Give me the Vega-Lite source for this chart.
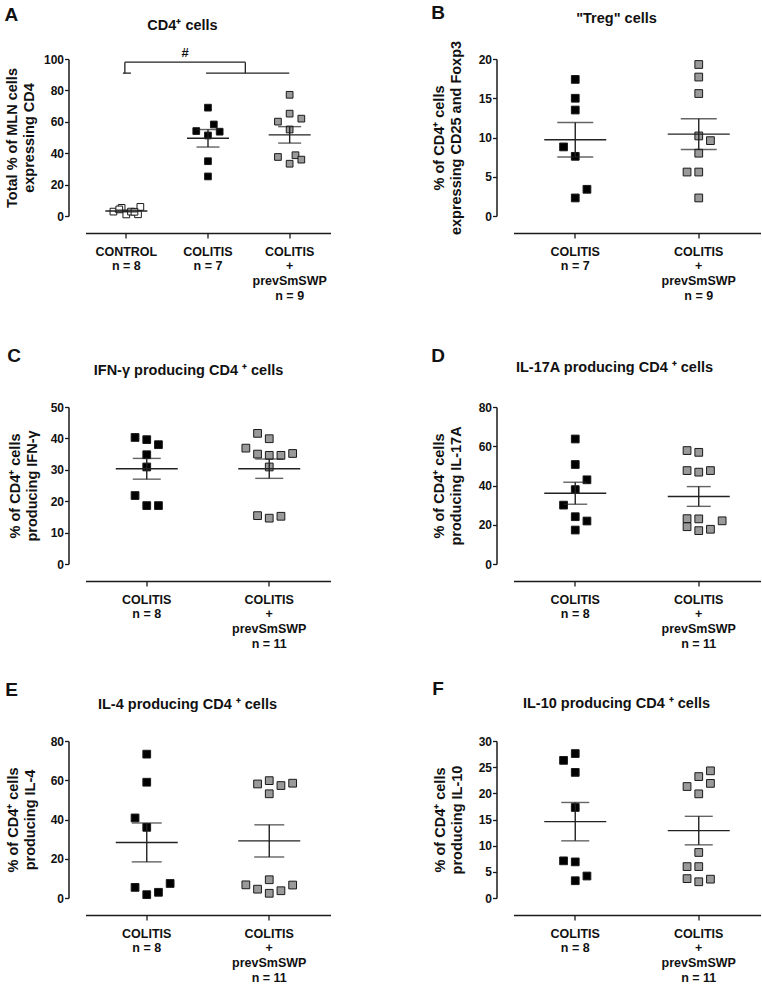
{
  "$schema": "https://vega.github.io/schema/vega-lite/v6.json",
  "padding": {"left": 3.5, "top": 3, "right": 0, "bottom": 0},
  "background": "white",
  "datasets": {
    "pts": [
      {"p":"A","g":1,"grp":"control","s":-1.1,"v":2.8},{"p":"A","g":1,"grp":"control","s":-0.4,"v":5.2},{"p":"A","g":1,"grp":"control","s":0,"v":1.0},{"p":"A","g":1,"grp":"control","s":0.4,"v":2.8},{"p":"A","g":1,"grp":"control","s":1.0,"v":1.1},{"p":"A","g":1,"grp":"control","s":1.2,"v":5.8},{"p":"A","g":1,"grp":"control","s":-0.6,"v":4.2},{"p":"A","g":1,"grp":"control","s":0.7,"v":2.7},
      {"p":"A","g":2,"grp":"colitis","s":0,"v":69.0},{"p":"A","g":2,"grp":"colitis","s":-1,"v":54.1},{"p":"A","g":2,"grp":"colitis","s":0.5,"v":58.3},{"p":"A","g":2,"grp":"colitis","s":0,"v":51.3},{"p":"A","g":2,"grp":"colitis","s":1,"v":53.7},{"p":"A","g":2,"grp":"colitis","s":0,"v":34.9},{"p":"A","g":2,"grp":"colitis","s":0,"v":25.2},
      {"p":"A","g":3,"grp":"prev","s":0,"v":77.2},{"p":"A","g":3,"grp":"prev","s":0,"v":65.2},{"p":"A","g":3,"grp":"prev","s":-1,"v":60.1},{"p":"A","g":3,"grp":"prev","s":1,"v":62.0},{"p":"A","g":3,"grp":"prev","s":0,"v":55.1},{"p":"A","g":3,"grp":"prev","s":-1,"v":37.6},{"p":"A","g":3,"grp":"prev","s":0.5,"v":38.7},{"p":"A","g":3,"grp":"prev","s":0,"v":33.3},{"p":"A","g":3,"grp":"prev","s":1,"v":35.9},
      {"p":"B","g":1,"grp":"colitis","s":0,"v":17.4},{"p":"B","g":1,"grp":"colitis","s":0,"v":15.0},{"p":"B","g":1,"grp":"colitis","s":0,"v":13.5},{"p":"B","g":1,"grp":"colitis","s":-1,"v":8.8},{"p":"B","g":1,"grp":"colitis","s":0,"v":7.6},{"p":"B","g":1,"grp":"colitis","s":1,"v":3.4},{"p":"B","g":1,"grp":"colitis","s":0,"v":2.3},
      {"p":"B","g":2,"grp":"prev","s":0,"v":19.3},{"p":"B","g":2,"grp":"prev","s":0,"v":17.7},{"p":"B","g":2,"grp":"prev","s":0,"v":15.6},{"p":"B","g":2,"grp":"prev","s":0,"v":10.2},{"p":"B","g":2,"grp":"prev","s":1,"v":9.6},{"p":"B","g":2,"grp":"prev","s":0,"v":8.0},{"p":"B","g":2,"grp":"prev","s":-1,"v":5.6},{"p":"B","g":2,"grp":"prev","s":0,"v":5.6},{"p":"B","g":2,"grp":"prev","s":0,"v":2.3},
      {"p":"C","g":1,"grp":"colitis","s":-1,"v":40.3},{"p":"C","g":1,"grp":"colitis","s":0,"v":39.6},{"p":"C","g":1,"grp":"colitis","s":1,"v":38.0},{"p":"C","g":1,"grp":"colitis","s":0,"v":34.8},{"p":"C","g":1,"grp":"colitis","s":0,"v":30.9},{"p":"C","g":1,"grp":"colitis","s":-1,"v":21.8},{"p":"C","g":1,"grp":"colitis","s":0,"v":18.6},{"p":"C","g":1,"grp":"colitis","s":1,"v":18.6},
      {"p":"C","g":2,"grp":"prev","s":-1,"v":41.6},{"p":"C","g":2,"grp":"prev","s":0,"v":39.9},{"p":"C","g":2,"grp":"prev","s":-2,"v":36.9},{"p":"C","g":2,"grp":"prev","s":-1,"v":35.0},{"p":"C","g":2,"grp":"prev","s":0,"v":34.6},{"p":"C","g":2,"grp":"prev","s":1,"v":34.6},{"p":"C","g":2,"grp":"prev","s":2,"v":35.2},{"p":"C","g":2,"grp":"prev","s":0,"v":30.9},{"p":"C","g":2,"grp":"prev","s":-1,"v":15.4},{"p":"C","g":2,"grp":"prev","s":0,"v":14.6},{"p":"C","g":2,"grp":"prev","s":1,"v":15.2},
      {"p":"D","g":1,"grp":"colitis","s":0,"v":63.7},{"p":"D","g":1,"grp":"colitis","s":0,"v":50.7},{"p":"D","g":1,"grp":"colitis","s":1,"v":42.9},{"p":"D","g":1,"grp":"colitis","s":0,"v":37.9},{"p":"D","g":1,"grp":"colitis","s":-1,"v":30.0},{"p":"D","g":1,"grp":"colitis","s":0,"v":24.1},{"p":"D","g":1,"grp":"colitis","s":1,"v":21.9},{"p":"D","g":1,"grp":"colitis","s":0,"v":17.3},
      {"p":"D","g":2,"grp":"prev","s":-1,"v":57.8},{"p":"D","g":2,"grp":"prev","s":0,"v":56.9},{"p":"D","g":2,"grp":"prev","s":-1,"v":47.6},{"p":"D","g":2,"grp":"prev","s":0,"v":46.8},{"p":"D","g":2,"grp":"prev","s":1,"v":47.6},{"p":"D","g":2,"grp":"prev","s":-1,"v":23.1},{"p":"D","g":2,"grp":"prev","s":0,"v":23.0},{"p":"D","g":2,"grp":"prev","s":2,"v":22.0},{"p":"D","g":2,"grp":"prev","s":-1,"v":19.0},{"p":"D","g":2,"grp":"prev","s":0,"v":17.0},{"p":"D","g":2,"grp":"prev","s":1,"v":17.7},
      {"p":"E","g":1,"grp":"colitis","s":0,"v":73.3},{"p":"E","g":1,"grp":"colitis","s":0,"v":59.0},{"p":"E","g":1,"grp":"colitis","s":-1,"v":40.8},{"p":"E","g":1,"grp":"colitis","s":0,"v":36.0},{"p":"E","g":1,"grp":"colitis","s":-1,"v":5.4},{"p":"E","g":1,"grp":"colitis","s":0,"v":1.7},{"p":"E","g":1,"grp":"colitis","s":1,"v":2.9},{"p":"E","g":1,"grp":"colitis","s":2,"v":7.4},
      {"p":"E","g":2,"grp":"prev","s":-1,"v":58.1},{"p":"E","g":2,"grp":"prev","s":0,"v":59.8},{"p":"E","g":2,"grp":"prev","s":1,"v":57.3},{"p":"E","g":2,"grp":"prev","s":2,"v":58.5},{"p":"E","g":2,"grp":"prev","s":0,"v":53.1},{"p":"E","g":2,"grp":"prev","s":-2,"v":6.7},{"p":"E","g":2,"grp":"prev","s":-1,"v":4.5},{"p":"E","g":2,"grp":"prev","s":0,"v":9.3},{"p":"E","g":2,"grp":"prev","s":0,"v":2.4},{"p":"E","g":2,"grp":"prev","s":1,"v":3.7},{"p":"E","g":2,"grp":"prev","s":2,"v":6.6},
      {"p":"F","g":1,"grp":"colitis","s":0,"v":27.6},{"p":"F","g":1,"grp":"colitis","s":-1,"v":26.3},{"p":"F","g":1,"grp":"colitis","s":0,"v":24.0},{"p":"F","g":1,"grp":"colitis","s":0,"v":17.3},{"p":"F","g":1,"grp":"colitis","s":-1,"v":7.1},{"p":"F","g":1,"grp":"colitis","s":0,"v":6.9},{"p":"F","g":1,"grp":"colitis","s":1,"v":4.2},{"p":"F","g":1,"grp":"colitis","s":0,"v":3.3},
      {"p":"F","g":2,"grp":"prev","s":1,"v":24.3},{"p":"F","g":2,"grp":"prev","s":0,"v":23.2},{"p":"F","g":2,"grp":"prev","s":1,"v":21.9},{"p":"F","g":2,"grp":"prev","s":-1,"v":21.3},{"p":"F","g":2,"grp":"prev","s":0,"v":19.9},{"p":"F","g":2,"grp":"prev","s":0,"v":8.7},{"p":"F","g":2,"grp":"prev","s":-1,"v":6.0},{"p":"F","g":2,"grp":"prev","s":0,"v":6.0},{"p":"F","g":2,"grp":"prev","s":-1,"v":3.7},{"p":"F","g":2,"grp":"prev","s":0,"v":3.1},{"p":"F","g":2,"grp":"prev","s":1,"v":3.6}
    ]
  },
  "data": {"name": "pts"},
  "spacing": 348,
  "bounds": "flush",
  "resolve": {"scale": {"xOffset": "independent"}},
  "vconcat": [
    {
      "hconcat": [
        {
          "title": {"text": "A", "anchor": "start", "frame": "bounds", "offset": -7},
          "bounds": "flush",
          "resolve": {"scale": {"xOffset": "independent"}},
          "vconcat": [
            {
              "title": {"text": "CD4⁺ cells", "anchor": "middle", "frame": "group", "offset": 13.7, "dx": -25.5, "fontSize": 14.5},
              "width": 245, "height": 157,
              "transform": [{"filter": "datum.p == 'A'"}],
              "layer": [
                {
                  "mark": {"type": "square", "size": 45, "filled": true, "opacity": 1, "stroke": "#1a1a1a", "strokeWidth": 1},
                  "encoding": {
                    "x": {"field": "g", "type": "ordinal", "scale": {"domain": [1, 2, 3], "paddingInner": 0, "paddingOuter": 0}, "axis": {"title": null, "labelAngle": 0, "labelExpr": "datum.value == 1 ? ['CONTROL', 'n = 8'] : datum.value == 2 ? ['COLITIS', 'n = 7'] : ['COLITIS', '+', 'prevSmSWP', 'n = 9']"}},
                    "xOffset": {"field": "s", "type": "quantitative", "scale": {"domain": [-1, 1], "range": [29.1, 52.5]}},
                    "y": {"field": "v", "type": "quantitative", "scale": {"domain": [0, 100], "nice": false}, "axis": {"values": [0, 20, 40, 60, 80, 100], "title": ["Total % of MLN cells", "expressing CD4"], "titlePadding": 7}},
                    "fill": {"field": "grp", "type": "nominal", "scale": {"domain": ["control", "colitis", "prev"], "range": ["#ffffff", "#000000", "#9a9a9a"]}, "legend": null}
                  }
                },
                {
                  "mark": {"type": "errorbar", "extent": "stderr", "ticks": {"size": 23}, "thickness": 1.4, "color": "#222222"},
                  "encoding": {
                    "x": {"field": "g", "type": "ordinal", "scale": {"domain": [1, 2, 3], "paddingInner": 0, "paddingOuter": 0}, "axis": null},
                    "y": {"field": "v", "type": "quantitative", "scale": {"domain": [0, 100], "nice": false}, "axis": {"values": [0, 20, 40, 60, 80, 100], "title": ["Total % of MLN cells", "expressing CD4"], "titlePadding": 7}}
                  }
                },
                {
                  "mark": {"type": "tick", "orient": "horizontal", "size": 42, "thickness": 1.4, "color": "#222222"},
                  "encoding": {
                    "x": {"field": "g", "type": "ordinal", "scale": {"domain": [1, 2, 3], "paddingInner": 0, "paddingOuter": 0}, "axis": null},
                    "y": {"aggregate": "mean", "field": "v", "type": "quantitative", "scale": {"domain": [0, 100], "nice": false}, "axis": {"values": [0, 20, 40, 60, 80, 100], "title": ["Total % of MLN cells", "expressing CD4"], "titlePadding": 7}}
                  }
                },
                {
                  "data": {"values": [
                    {"p": "A", "x1": 0.958, "x2": 1.056, "y1": 91, "y2": 91},
                    {"p": "A", "x1": 0.982, "x2": 0.982, "y1": 91, "y2": 98},
                    {"p": "A", "x1": 0.982, "x2": 2.457, "y1": 98, "y2": 98},
                    {"p": "A", "x1": 2.457, "x2": 2.457, "y1": 98, "y2": 91},
                    {"p": "A", "x1": 1.976, "x2": 2.995, "y1": 91, "y2": 91}
                  ]},
                  "mark": {"type": "rule", "strokeWidth": 1.3, "color": "#222222"},
                  "encoding": {
                    "x": {"field": "x1", "type": "quantitative", "scale": {"domain": [0.5, 3.5]}, "axis": null},
                    "x2": {"field": "x2"},
                    "y": {"field": "y1", "type": "quantitative", "scale": {"domain": [0, 100], "nice": false}, "axis": {"values": [0, 20, 40, 60, 80, 100], "title": ["Total % of MLN cells", "expressing CD4"], "titlePadding": 7}},
                    "y2": {"field": "y2"}
                  }
                },
                {
                  "data": {"values": [{"p": "A", "x": 1.72, "y": 101, "t": "#"}]},
                  "mark": {"type": "text", "baseline": "alphabetic", "align": "center", "fontSize": 13, "fontWeight": "bold", "font": "Liberation Sans", "color": "#111111"},
                  "encoding": {
                    "x": {"field": "x", "type": "quantitative", "scale": {"domain": [0.5, 3.5]}, "axis": null},
                    "y": {"field": "y", "type": "quantitative", "scale": {"domain": [0, 100], "nice": false}, "axis": {"values": [0, 20, 40, 60, 80, 100], "title": ["Total % of MLN cells", "expressing CD4"], "titlePadding": 7}},
                    "text": {"field": "t"}
                  }
                }
              ],
              "resolve": {"scale": {"x": "independent"}}
            }
          ]
        },
        {
          "title": {"text": "B", "anchor": "start", "frame": "bounds", "offset": -12},
          "bounds": "flush",
          "resolve": {"scale": {"xOffset": "independent"}},
          "vconcat": [
            {
              "title": {"text": "\"Treg\" cells", "anchor": "middle", "frame": "group", "offset": 14.2, "dx": -20.5, "fontSize": 14.5},
              "width": 247, "height": 157,
              "transform": [{"filter": "datum.p == 'B'"}],
              "layer": [
                {
                  "mark": {"type": "square", "size": 60, "filled": true, "opacity": 1, "stroke": "#1a1a1a", "strokeWidth": 1},
                  "encoding": {
                    "x": {"field": "g", "type": "ordinal", "scale": {"domain": [1, 2], "paddingInner": 0, "paddingOuter": 0}, "axis": {"title": null, "labelAngle": 0, "labelExpr": "datum.value == 1 ? ['COLITIS', 'n = 7'] : ['COLITIS', '+', 'prevSmSWP', 'n = 9']"}},
                    "xOffset": {"field": "s", "type": "quantitative", "scale": {"domain": [-1, 1], "range": [50.05, 73.45]}},
                    "y": {"field": "v", "type": "quantitative", "scale": {"domain": [0, 20], "nice": false}, "axis": {"values": [0, 5, 10, 15, 20], "title": ["% of CD4⁺ cells", "expressing CD25 and Foxp3"], "titlePadding": 15}},
                    "fill": {"field": "grp", "type": "nominal", "scale": {"domain": ["control", "colitis", "prev"], "range": ["#ffffff", "#000000", "#9a9a9a"]}, "legend": null}
                  }
                },
                {
                  "mark": {"type": "errorbar", "extent": "stderr", "ticks": {"size": 36}, "thickness": 1.4, "color": "#222222"},
                  "encoding": {
                    "x": {"field": "g", "type": "ordinal", "scale": {"domain": [1, 2], "paddingInner": 0, "paddingOuter": 0}, "axis": {"title": null, "labelAngle": 0, "labelExpr": "datum.value == 1 ? ['COLITIS', 'n = 7'] : ['COLITIS', '+', 'prevSmSWP', 'n = 9']"}},
                    "y": {"field": "v", "type": "quantitative", "scale": {"domain": [0, 20], "nice": false}, "axis": {"values": [0, 5, 10, 15, 20], "title": ["% of CD4⁺ cells", "expressing CD25 and Foxp3"], "titlePadding": 15}}
                  }
                },
                {
                  "mark": {"type": "tick", "orient": "horizontal", "size": 62, "thickness": 1.4, "color": "#222222"},
                  "encoding": {
                    "x": {"field": "g", "type": "ordinal", "scale": {"domain": [1, 2], "paddingInner": 0, "paddingOuter": 0}, "axis": {"title": null, "labelAngle": 0, "labelExpr": "datum.value == 1 ? ['COLITIS', 'n = 7'] : ['COLITIS', '+', 'prevSmSWP', 'n = 9']"}},
                    "y": {"aggregate": "mean", "field": "v", "type": "quantitative", "scale": {"domain": [0, 20], "nice": false}, "axis": {"values": [0, 5, 10, 15, 20], "title": ["% of CD4⁺ cells", "expressing CD25 and Foxp3"], "titlePadding": 15}}
                  }
                }
              ]
            }
          ]
        }
      ],
      "spacing": 428,
      "bounds": "flush",
      "resolve": {"scale": {"xOffset": "independent"}}
    },
    {
      "spacing": 334,
      "bounds": "flush",
      "resolve": {"scale": {"xOffset": "independent"}},
      "vconcat": [
        {
          "hconcat": [
            {
              "title": {"text": "C", "anchor": "start", "frame": "bounds", "offset": -2.5},
              "bounds": "flush",
              "resolve": {"scale": {"xOffset": "independent"}},
              "vconcat": [
                {
                  "title": {"text": "IFN-γ producing CD4 ⁺ cells", "anchor": "middle", "frame": "group", "offset": 22.2, "dx": -19.5, "fontSize": 14.5},
                  "width": 245, "height": 157,
                  "transform": [{"filter": "datum.p == 'C'"}],
                  "layer": [
                    {
                      "mark": {"type": "square", "size": 60, "filled": true, "opacity": 1, "stroke": "#1a1a1a", "strokeWidth": 1},
                      "encoding": {
                        "x": {"field": "g", "type": "ordinal", "scale": {"domain": [1, 2], "paddingInner": 0, "paddingOuter": 0}, "axis": {"title": null, "labelAngle": 0, "labelExpr": "datum.value == 1 ? ['COLITIS', 'n = 8'] : ['COLITIS', '+', 'prevSmSWP', 'n = 11']"}},
                        "xOffset": {"field": "s", "type": "quantitative", "scale": {"domain": [-1, 1], "range": [49.55, 72.95]}},
                        "y": {"field": "v", "type": "quantitative", "scale": {"domain": [0, 50], "nice": false}, "axis": {"values": [0, 10, 20, 30, 40, 50], "title": ["% of CD4⁺ cells", "producing IFN-γ"], "titlePadding": 11}},
                        "fill": {"field": "grp", "type": "nominal", "scale": {"domain": ["control", "colitis", "prev"], "range": ["#ffffff", "#000000", "#9a9a9a"]}, "legend": null}
                      }
                    },
                    {
                      "mark": {"type": "errorbar", "extent": "stderr", "ticks": {"size": 28}, "thickness": 1.4, "color": "#222222"},
                      "encoding": {
                        "x": {"field": "g", "type": "ordinal", "scale": {"domain": [1, 2], "paddingInner": 0, "paddingOuter": 0}, "axis": {"title": null, "labelAngle": 0, "labelExpr": "datum.value == 1 ? ['COLITIS', 'n = 8'] : ['COLITIS', '+', 'prevSmSWP', 'n = 11']"}},
                        "y": {"field": "v", "type": "quantitative", "scale": {"domain": [0, 50], "nice": false}, "axis": {"values": [0, 10, 20, 30, 40, 50], "title": ["% of CD4⁺ cells", "producing IFN-γ"], "titlePadding": 11}}
                      }
                    },
                    {
                      "mark": {"type": "tick", "orient": "horizontal", "size": 62, "thickness": 1.4, "color": "#222222"},
                      "encoding": {
                        "x": {"field": "g", "type": "ordinal", "scale": {"domain": [1, 2], "paddingInner": 0, "paddingOuter": 0}, "axis": {"title": null, "labelAngle": 0, "labelExpr": "datum.value == 1 ? ['COLITIS', 'n = 8'] : ['COLITIS', '+', 'prevSmSWP', 'n = 11']"}},
                        "y": {"aggregate": "mean", "field": "v", "type": "quantitative", "scale": {"domain": [0, 50], "nice": false}, "axis": {"values": [0, 10, 20, 30, 40, 50], "title": ["% of CD4⁺ cells", "producing IFN-γ"], "titlePadding": 11}}
                      }
                    }
                  ]
                }
              ]
            },
            {
              "title": {"text": "D", "anchor": "start", "frame": "bounds", "offset": -6},
              "bounds": "flush",
              "resolve": {"scale": {"xOffset": "independent"}},
              "vconcat": [
                {
                  "title": {"text": "IL-17A producing CD4 ⁺ cells", "anchor": "middle", "frame": "group", "offset": 25.7, "dx": -22.5, "fontSize": 14.5},
                  "width": 247, "height": 157,
                  "transform": [{"filter": "datum.p == 'D'"}],
                  "layer": [
                    {
                      "mark": {"type": "square", "size": 60, "filled": true, "opacity": 1, "stroke": "#1a1a1a", "strokeWidth": 1},
                      "encoding": {
                        "x": {"field": "g", "type": "ordinal", "scale": {"domain": [1, 2], "paddingInner": 0, "paddingOuter": 0}, "axis": {"title": null, "labelAngle": 0, "labelExpr": "datum.value == 1 ? ['COLITIS', 'n = 8'] : ['COLITIS', '+', 'prevSmSWP', 'n = 11']"}},
                        "xOffset": {"field": "s", "type": "quantitative", "scale": {"domain": [-1, 1], "range": [50.05, 73.45]}},
                        "y": {"field": "v", "type": "quantitative", "scale": {"domain": [0, 80], "nice": false}, "axis": {"values": [0, 20, 40, 60, 80], "title": ["% of CD4⁺ cells", "producing IL-17A"], "titlePadding": 15}},
                        "fill": {"field": "grp", "type": "nominal", "scale": {"domain": ["control", "colitis", "prev"], "range": ["#ffffff", "#000000", "#9a9a9a"]}, "legend": null}
                      }
                    },
                    {
                      "mark": {"type": "errorbar", "extent": "stderr", "ticks": {"size": 24}, "thickness": 1.4, "color": "#222222"},
                      "encoding": {
                        "x": {"field": "g", "type": "ordinal", "scale": {"domain": [1, 2], "paddingInner": 0, "paddingOuter": 0}, "axis": {"title": null, "labelAngle": 0, "labelExpr": "datum.value == 1 ? ['COLITIS', 'n = 8'] : ['COLITIS', '+', 'prevSmSWP', 'n = 11']"}},
                        "y": {"field": "v", "type": "quantitative", "scale": {"domain": [0, 80], "nice": false}, "axis": {"values": [0, 20, 40, 60, 80], "title": ["% of CD4⁺ cells", "producing IL-17A"], "titlePadding": 15}}
                      }
                    },
                    {
                      "mark": {"type": "tick", "orient": "horizontal", "size": 62, "thickness": 1.4, "color": "#222222"},
                      "encoding": {
                        "x": {"field": "g", "type": "ordinal", "scale": {"domain": [1, 2], "paddingInner": 0, "paddingOuter": 0}, "axis": {"title": null, "labelAngle": 0, "labelExpr": "datum.value == 1 ? ['COLITIS', 'n = 8'] : ['COLITIS', '+', 'prevSmSWP', 'n = 11']"}},
                        "y": {"aggregate": "mean", "field": "v", "type": "quantitative", "scale": {"domain": [0, 80], "nice": false}, "axis": {"values": [0, 20, 40, 60, 80], "title": ["% of CD4⁺ cells", "producing IL-17A"], "titlePadding": 15}}
                      }
                    }
                  ]
                }
              ]
            }
          ],
          "spacing": 428,
          "bounds": "flush",
          "resolve": {"scale": {"xOffset": "independent"}}
        },
        {
          "hconcat": [
            {
              "title": {"text": "E", "anchor": "start", "frame": "bounds", "offset": -2.5},
              "bounds": "flush",
              "resolve": {"scale": {"xOffset": "independent"}},
              "vconcat": [
                {
                  "title": {"text": "IL-4 producing CD4 ⁺ cells", "anchor": "middle", "frame": "group", "offset": 22.2, "dx": -20.5, "fontSize": 14.5},
                  "width": 245, "height": 157,
                  "transform": [{"filter": "datum.p == 'E'"}],
                  "layer": [
                    {
                      "mark": {"type": "square", "size": 60, "filled": true, "opacity": 1, "stroke": "#1a1a1a", "strokeWidth": 1},
                      "encoding": {
                        "x": {"field": "g", "type": "ordinal", "scale": {"domain": [1, 2], "paddingInner": 0, "paddingOuter": 0}, "axis": {"title": null, "labelAngle": 0, "labelExpr": "datum.value == 1 ? ['COLITIS', 'n = 8'] : ['COLITIS', '+', 'prevSmSWP', 'n = 11']"}},
                        "xOffset": {"field": "s", "type": "quantitative", "scale": {"domain": [-1, 1], "range": [49.55, 72.95]}},
                        "y": {"field": "v", "type": "quantitative", "scale": {"domain": [0, 80], "nice": false}, "axis": {"values": [0, 20, 40, 60, 80], "title": ["% of CD4⁺ cells", "producing IL-4"], "titlePadding": 13}},
                        "fill": {"field": "grp", "type": "nominal", "scale": {"domain": ["control", "colitis", "prev"], "range": ["#ffffff", "#000000", "#9a9a9a"]}, "legend": null}
                      }
                    },
                    {
                      "mark": {"type": "errorbar", "extent": "stderr", "ticks": {"size": 30}, "thickness": 1.4, "color": "#222222"},
                      "encoding": {
                        "x": {"field": "g", "type": "ordinal", "scale": {"domain": [1, 2], "paddingInner": 0, "paddingOuter": 0}, "axis": {"title": null, "labelAngle": 0, "labelExpr": "datum.value == 1 ? ['COLITIS', 'n = 8'] : ['COLITIS', '+', 'prevSmSWP', 'n = 11']"}},
                        "y": {"field": "v", "type": "quantitative", "scale": {"domain": [0, 80], "nice": false}, "axis": {"values": [0, 20, 40, 60, 80], "title": ["% of CD4⁺ cells", "producing IL-4"], "titlePadding": 13}}
                      }
                    },
                    {
                      "mark": {"type": "tick", "orient": "horizontal", "size": 62, "thickness": 1.4, "color": "#222222"},
                      "encoding": {
                        "x": {"field": "g", "type": "ordinal", "scale": {"domain": [1, 2], "paddingInner": 0, "paddingOuter": 0}, "axis": {"title": null, "labelAngle": 0, "labelExpr": "datum.value == 1 ? ['COLITIS', 'n = 8'] : ['COLITIS', '+', 'prevSmSWP', 'n = 11']"}},
                        "y": {"aggregate": "mean", "field": "v", "type": "quantitative", "scale": {"domain": [0, 80], "nice": false}, "axis": {"values": [0, 20, 40, 60, 80], "title": ["% of CD4⁺ cells", "producing IL-4"], "titlePadding": 13}}
                      }
                    }
                  ]
                }
              ]
            },
            {
              "title": {"text": "F", "anchor": "start", "frame": "bounds", "offset": -2.5},
              "bounds": "flush",
              "resolve": {"scale": {"xOffset": "independent"}},
              "vconcat": [
                {
                  "title": {"text": "IL-10 producing CD4 ⁺ cells", "anchor": "middle", "frame": "group", "offset": 23.2, "dx": -20.5, "fontSize": 14.5},
                  "width": 247, "height": 157,
                  "transform": [{"filter": "datum.p == 'F'"}],
                  "layer": [
                    {
                      "mark": {"type": "square", "size": 60, "filled": true, "opacity": 1, "stroke": "#1a1a1a", "strokeWidth": 1},
                      "encoding": {
                        "x": {"field": "g", "type": "ordinal", "scale": {"domain": [1, 2], "paddingInner": 0, "paddingOuter": 0}, "axis": {"title": null, "labelAngle": 0, "labelExpr": "datum.value == 1 ? ['COLITIS', 'n = 8'] : ['COLITIS', '+', 'prevSmSWP', 'n = 11']"}},
                        "xOffset": {"field": "s", "type": "quantitative", "scale": {"domain": [-1, 1], "range": [50.05, 73.45]}},
                        "y": {"field": "v", "type": "quantitative", "scale": {"domain": [0, 30], "nice": false}, "axis": {"values": [0, 5, 10, 15, 20, 25, 30], "title": ["% of CD4⁺ cells", "producing IL-10"], "titlePadding": 14}},
                        "fill": {"field": "grp", "type": "nominal", "scale": {"domain": ["control", "colitis", "prev"], "range": ["#ffffff", "#000000", "#9a9a9a"]}, "legend": null}
                      }
                    },
                    {
                      "mark": {"type": "errorbar", "extent": "stderr", "ticks": {"size": 28}, "thickness": 1.4, "color": "#222222"},
                      "encoding": {
                        "x": {"field": "g", "type": "ordinal", "scale": {"domain": [1, 2], "paddingInner": 0, "paddingOuter": 0}, "axis": {"title": null, "labelAngle": 0, "labelExpr": "datum.value == 1 ? ['COLITIS', 'n = 8'] : ['COLITIS', '+', 'prevSmSWP', 'n = 11']"}},
                        "y": {"field": "v", "type": "quantitative", "scale": {"domain": [0, 30], "nice": false}, "axis": {"values": [0, 5, 10, 15, 20, 25, 30], "title": ["% of CD4⁺ cells", "producing IL-10"], "titlePadding": 14}}
                      }
                    },
                    {
                      "mark": {"type": "tick", "orient": "horizontal", "size": 62, "thickness": 1.4, "color": "#222222"},
                      "encoding": {
                        "x": {"field": "g", "type": "ordinal", "scale": {"domain": [1, 2], "paddingInner": 0, "paddingOuter": 0}, "axis": {"title": null, "labelAngle": 0, "labelExpr": "datum.value == 1 ? ['COLITIS', 'n = 8'] : ['COLITIS', '+', 'prevSmSWP', 'n = 11']"}},
                        "y": {"aggregate": "mean", "field": "v", "type": "quantitative", "scale": {"domain": [0, 30], "nice": false}, "axis": {"values": [0, 5, 10, 15, 20, 25, 30], "title": ["% of CD4⁺ cells", "producing IL-10"], "titlePadding": 14}}
                      }
                    }
                  ]
                }
              ]
            }
          ],
          "spacing": 428,
          "bounds": "flush",
          "resolve": {"scale": {"xOffset": "independent"}}
        }
      ]
    }
  ],
  "config": {
    "view": {"stroke": null},
    "font": "Liberation Sans",
    "title": {"font": "Liberation Sans", "fontSize": 19, "fontWeight": "bold", "color": "#111111"},
    "axis": {"grid": false, "domainColor": "#1a1a1a", "domainWidth": 1.5, "tickColor": "#1a1a1a", "tickWidth": 1.3, "labelFont": "Liberation Sans", "labelFontWeight": "bold", "labelColor": "#111111", "titleFont": "Liberation Sans", "titleFontWeight": "bold", "titleColor": "#111111"},
    "axisLeft": {"offset": 17, "tickSize": 4, "labelFontSize": 12, "labelPadding": 1, "titleFontSize": 14.5, "titleLineHeight": 17, "labelFlush": false},
    "axisBottom": {"offset": 17, "tickSize": 5, "labelFontSize": 12.5, "labelLineHeight": 14.7, "labelPadding": 7, "labelOverlap": false, "labelFlush": false, "labelBound": false}
  }
}
